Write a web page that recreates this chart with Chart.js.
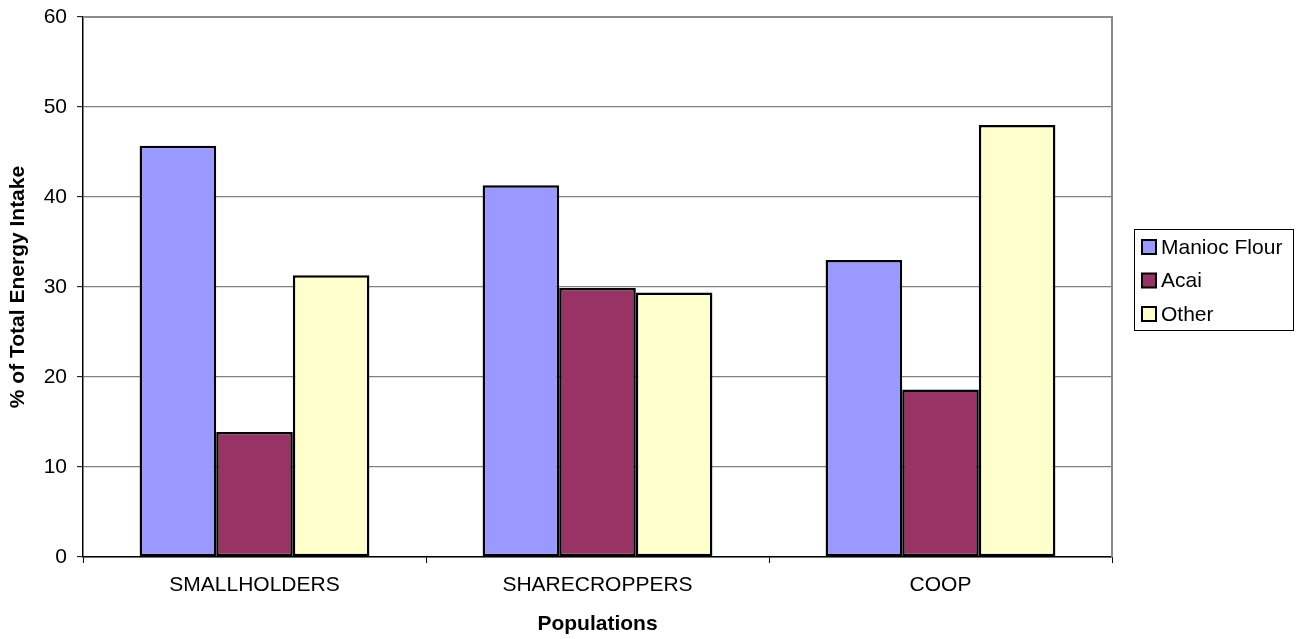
<!DOCTYPE html>
<html>
<head>
<meta charset="utf-8">
<script src="https://cdn.jsdelivr.net/npm/chart.js@4"></script>
<style>
  html, body { margin: 0; padding: 0; background: #fff; }
  #wrap { width: 1305px; height: 639px; }
</style>
</head>
<body>
<div id="wrap"><canvas id="c" width="1305" height="639"></canvas></div>
<script>
// Populations and share of total energy intake (%) by food source
const populations = ['SMALLHOLDERS', 'SHARECROPPERS', 'COOP'];
const maniocFlour = [45.7, 41.3, 33.0];
const acai = [13.9, 29.9, 18.6];
const other = [31.3, 29.4, 48.0];
const yTicks = [0, 10, 20, 30, 40, 50, 60];

const FONT = '"Liberation Sans", Arial, sans-serif';

// Frame (gray top/right border) and boxed legend on the right
const framePlugin = {
  id: 'frame',
  beforeDatasetsDraw(chart) {
    const { ctx, chartArea: a } = chart;
    ctx.save();
    ctx.strokeStyle = '#8a8a8a';
    ctx.lineWidth = 2;
    ctx.beginPath();
    ctx.moveTo(a.left, a.top);
    ctx.lineTo(a.right, a.top);
    ctx.lineTo(a.right, a.bottom);
    ctx.stroke();
    ctx.restore();
  },
  afterDraw(chart) {
    const { ctx } = chart;
    const boxX = 1134, boxY = 229, boxW = 159, boxH = 101;
    ctx.save();
    ctx.fillStyle = '#fff';
    ctx.fillRect(boxX, boxY, boxW, boxH);
    ctx.strokeStyle = '#000';
    ctx.lineWidth = 1;
    ctx.strokeRect(boxX + 0.5, boxY + 0.5, boxW, boxH);
    ctx.font = '21px ' + FONT;
    ctx.textBaseline = 'middle';
    ctx.textAlign = 'left';
    chart.data.datasets.forEach((ds, i) => {
      const cy = 247 + i * 33.5;
      ctx.fillStyle = ds.backgroundColor;
      ctx.fillRect(1142, cy - 7, 14, 14);
      ctx.strokeStyle = '#000';
      ctx.lineWidth = 2;
      ctx.strokeRect(1142, cy - 7, 14, 14);
      ctx.fillStyle = '#000';
      ctx.fillText(ds.label, 1161, cy + 1);
    });
    ctx.restore();
  }
};

new Chart(document.getElementById('c'), {
  type: 'bar',
  data: {
    labels: populations,
    datasets: [
      { label: 'Manioc Flour', data: maniocFlour, backgroundColor: '#9999FF' },
      { label: 'Acai', data: acai, backgroundColor: '#993366' },
      { label: 'Other', data: other, backgroundColor: '#FFFFCC' }
    ]
  },
  options: {
    responsive: false,
    animation: false,
    devicePixelRatio: 1,
    layout: { padding: { left: 0, top: 17, right: 193, bottom: 0 } },
    datasets: {
      bar: {
        categoryPercentage: 0.67,
        barPercentage: 1.0,
        borderColor: '#000',
        borderWidth: 2.5,
        borderSkipped: false
      }
    },
    plugins: {
      legend: { display: false },
      tooltip: { enabled: false }
    },
    scales: {
      x: {
        afterFit(s) { s.height = 82; s.paddingLeft = 0; s.paddingRight = 0; },
        grid: {
          offset: true,
          drawOnChartArea: false,
          drawTicks: true,
          tickLength: 6,
          tickColor: '#000',
          tickWidth: 1
        },
        border: { display: true, color: '#000', width: 1.5 },
        ticks: { color: '#000', padding: 10, font: { family: FONT, size: 21 } },
        title: {
          display: true,
          text: 'Populations',
          color: '#000',
          padding: { top: 0, bottom: 2 },
          font: { family: FONT, size: 21, weight: 'bold' }
        }
      },
      y: {
        min: 0,
        max: 60,
        afterFit(s) { s.width = 83; s.paddingTop = 0; s.paddingBottom = 0; },
        afterBuildTicks(s) { s.ticks = yTicks.map(v => ({ value: v })); },
        grid: {
          color: '#808080',
          lineWidth: 1.3,
          drawTicks: true,
          tickLength: 6,
          tickColor: '#000',
          tickWidth: 1
        },
        border: { display: true, color: '#000', width: 1.5 },
        ticks: { color: '#000', padding: 10, font: { family: FONT, size: 21 } },
        title: {
          display: true,
          text: '% of Total Energy Intake',
          color: '#000',
          padding: { top: 6, bottom: 0 },
          font: { family: FONT, size: 21, weight: 'bold' }
        }
      }
    }
  },
  plugins: [framePlugin]
});
</script>
</body>
</html>
